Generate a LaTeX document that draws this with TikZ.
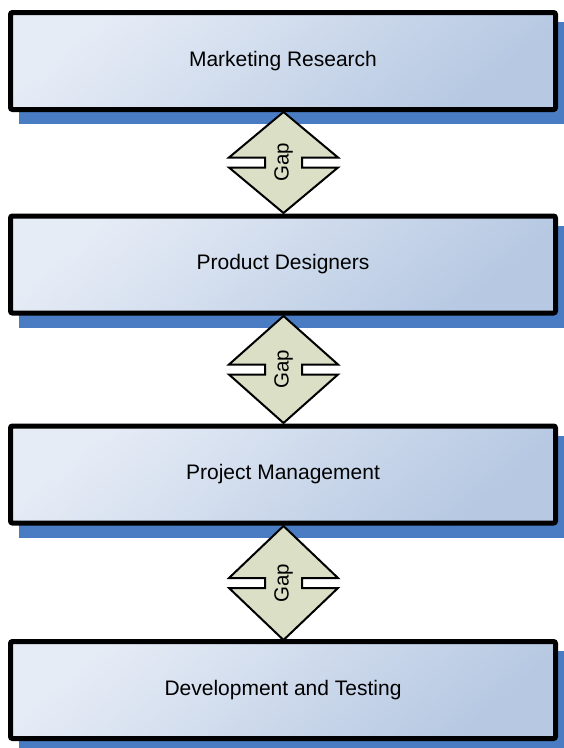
\documentclass[tikz,border=0pt]{standalone}
\usepackage{fontspec}
\setmainfont{Liberation Sans}
\usetikzlibrary{backgrounds}

\definecolor{boxlight}{HTML}{E6ECF6}
\definecolor{boxdark}{HTML}{B6C8E2}
\definecolor{shadowblue}{HTML}{4A7CC4}
\definecolor{gapfill}{HTML}{DADFC6}

\tikzset{
  procbox/.style={draw=black, line width=5pt, rounded corners=2pt,
    top color=boxlight, bottom color=boxdark, shading angle=40,
    minimum width=545pt, minimum height=97pt, inner sep=0pt,
    font=\fontsize{21}{24}\selectfont},
  gapshape/.style={draw=black, line width=2pt, fill=gapfill, line join=miter},
  gaplabel/.style={rotate=90, inner sep=0pt, font=\fontsize{20.5}{24}\selectfont},
  boxshadow/.style={fill=shadowblue}
}

% connector diamond with side slots: name, centre y, half height
\newcommand\gapdiamond[3]{%
  \begin{scope}[shift={(283.5,#2)}]
    \draw[gapshape] (0,-#3) -- (54.5,-5) -- (18.5,-5) -- (18.5,5) -- (54.5,5)
      -- (0,#3) -- (-54.5,5) -- (-18.5,5) -- (-18.5,-5) -- (-54.5,-5) -- cycle;
    \node[gaplabel] (#1) at (0,0) {Gap};
  \end{scope}}

\begin{document}
\begin{tikzpicture}[x=1pt, y=-1pt]
  \useasboundingbox (0,0) rectangle (564,748);

  % process stages
  \node[procbox] (b1) at (283,61)    {Marketing Research};
  \node[procbox] (b2) at (283,264.5) {Product Designers};
  \node[procbox] (b3) at (283,474.5) {Project Management};
  \node[procbox] (b4) at (283,690)   {Development and Testing};

  % offset blue shadows behind the stages, on a white page
  \begin{scope}[on background layer]
    \fill[white] (0,0) rectangle (564,748);
    \clip (0,0) rectangle (564,748);
    \foreach \b in {b1,b2,b3,b4}
      \fill[boxshadow] ([shift={(11,12)}]\b.north west) rectangle ([shift={(11,12)}]\b.south east);
  \end{scope}

  % gaps between stages
  \gapdiamond{g1}{162.5}{50.5}
  \gapdiamond{g2}{369.5}{53.5}
  \gapdiamond{g3}{583}{57}
\end{tikzpicture}
\end{document}
